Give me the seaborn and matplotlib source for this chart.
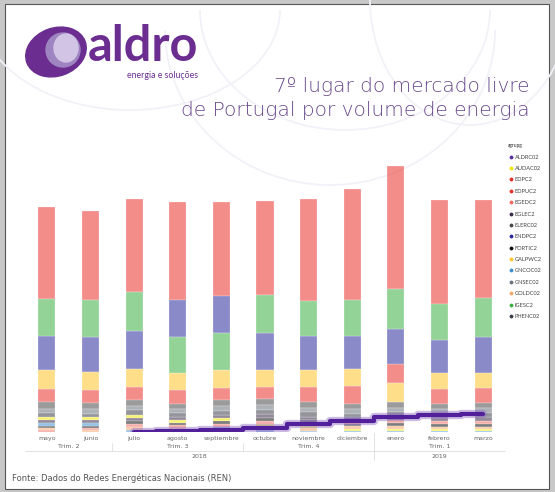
import numpy as np
import matplotlib
matplotlib.use("Agg")
import matplotlib.pyplot as plt
import seaborn as sns
from matplotlib.lines import Line2D
from matplotlib.patches import Rectangle, Ellipse, Arc

# ==========================
# DATOS (volumen mensual por comercializador, unidades aprox.)
# ==========================
meses = ["mayo", "junio", "julio", "agosto", "septiembre", "octubre",
         "noviembre", "diciembre", "enero", "febrero", "marzo"]
trimestres = ["Trim. 2", "Trim. 3", "Trim. 4", "Trim. 1"]
trim_centros = [0.5, 3, 6, 9]
anos = ["2018", "2019"]
ano_centros = [3.5, 9]

edpc2 = [91.6, 89.0, 93.0, 98.4, 94.3, 94.0, 101.7, 111.3, 122.7, 103.3, 98.0]
igesc2 = [36.7, 37.0, 38.7, 36.2, 37.0, 38.0, 35.7, 36.0, 39.7, 36.7, 39.3]
endpc2 = [34.7, 35.3, 38.3, 36.5, 37.2, 36.7, 33.6, 32.3, 35.6, 32.7, 35.4]
galpwc2 = [18.3, 18.0, 18.4, 17.7, 17.7, 17.3, 17.0, 17.7, 18.7, 15.6, 15.3]
edpuc2 = [13.7, 13.0, 12.7, 13.3, 12.3, 12.4, 15.0, 17.3, 19.0, 15.0, 15.0]
elerc02 = [6.3, 6.0, 5.5, 5.0, 5.5, 6.0, 5.8, 5.5, 6.0, 5.5, 5.5]
gnsec02 = [4.5, 4.6, 4.8, 4.4, 4.8, 4.8, 4.6, 4.4, 4.6, 4.4, 4.6]
phenc02 = [3.8, 3.6, 4.1, 3.6, 4.0, 4.2, 4.2, 3.9, 4.1, 4.0, 4.1]
egedc2 = [2.0, 2.2, 3.0, 2.5, 3.0, 3.2, 2.8, 3.0, 3.2, 3.0, 3.0]
audac02 = [3.0, 3.0, 3.5, 2.8, 3.2, 3.0, 2.5, 2.2, 2.0, 1.8, 1.8]
gncoc02 = [2.6, 2.5, 2.2, 2.0, 2.4, 2.2, 1.5, 1.2, 1.2, 1.0, 1.0]
eglec2 = [2.9, 2.8, 3.3, 3.1, 3.4, 3.5, 3.4, 3.2, 3.6, 3.5, 3.7]
fortic2 = [2.4, 2.2, 3.0, 2.7, 3.1, 3.3, 2.9, 2.8, 3.0, 2.8, 2.9]
goldc02 = [2.1, 1.9, 2.5, 2.2, 2.4, 2.6, 2.3, 2.2, 2.5, 2.4, 2.5]
aldrc02 = [np.nan, np.nan, 0.3, 0.8, 2.5, 4.0, 8.5, 11.5, 15.5, 17.0, 18.0]

nombres = ["ALDRC02", "AUDAC02", "EDPC2", "EDPUC2", "EGEDC2", "EGLEC2", "ELERC02",
           "ENDPC2", "FORTIC2", "GALPWC2", "GNCOC02", "GNSEC02", "GOLDC02",
           "IGESC2", "PHENC02"]
colores = ["#5b2d9e", "#f2e600", "#e8302a", "#e8302a", "#f06a62", "#3a2a4a", "#4a4a4a",
           "#2b2b9e", "#111111", "#ffc32b", "#3d8fd0", "#6a737c", "#f6a66a",
           "#3cb043", "#3a3f4a"]
series = {"AUDAC02": audac02, "EDPC2": edpc2, "EDPUC2": edpuc2, "EGEDC2": egedc2,
          "EGLEC2": eglec2, "ELERC02": elerc02, "ENDPC2": endpc2, "FORTIC2": fortic2,
          "GALPWC2": galpwc2, "GNCOC02": gncoc02, "GNSEC02": gnsec02,
          "GOLDC02": goldc02, "IGESC2": igesc2, "PHENC02": phenc02}
col = dict(zip(nombres, colores))

# ==========================
# FIGURA
# ==========================
sns.set_theme(style="white")
plt.rcParams["font.family"] = ["Lato", "DejaVu Sans"]
W, H = 555, 492
fig = plt.figure(figsize=(W / 100, H / 100), dpi=100)

# fondo: marco, arcos y logo (coordenadas en px)
bg = fig.add_axes([0, 0, 1, 1], zorder=-1)
bg.set_xlim(0, W)
bg.set_ylim(H, 0)
bg.axis("off")
bg.add_patch(Rectangle((0, 0), W, H, color="#c8c8c8"))
bg.add_patch(Rectangle((5, 4), 544, 485, facecolor="white", edgecolor="#555555", lw=0.8))
for (cx, cy, w, h, t1, t2) in [(330, 30, 330, 310, 0, 180), (345, 10, 290, 240, 0, 180),
                               (130, 10, 300, 200, 0, 180), (470, 0, 200, 250, 0, 180)]:
    bg.add_patch(Arc((cx, cy), w, h, theta1=t1, theta2=t2, color="#f3f1f8", lw=1.3))
bg.add_patch(Ellipse((56, 52), 62, 48, angle=-20, color="#6b2d8f"))
bg.add_patch(Ellipse((63, 50), 34, 34, angle=0, color="#9e84c0"))
bg.add_patch(Ellipse((66, 48), 24, 28, angle=0, color="#d2c4e4"))
bg.text(88, 61, "aldro", fontsize=35, fontweight="bold", color="#6b2d8f",
        ha="left", va="baseline")
bg.text(198, 75, "energia e soluções", fontsize=6.3, color="#6b2d8f", ha="right", va="center")
bg.text(530, 86, "7º lugar do mercado livre", fontsize=14.5, fontweight=200,
        color="#6a4a8c", family="DejaVu Sans", ha="right", va="center")
bg.text(530, 111, "de Portugal por volume de energia", fontsize=14.5,
        fontweight=200, color="#6a4a8c", family="DejaVu Sans",
        ha="right", va="center")
bg.text(12, 478, "Fonte: Dados do Redes Energéticas Nacionais (REN)", fontsize=6,
        color="#555555", family="DejaVu Sans", ha="left", va="center")

# ==========================
# BARRAS APILADAS (orden por valor en cada mes)
# ==========================
ax = fig.add_axes([25 / W, 1 - 432 / H, 480 / W, 272 / H])
ax.patch.set_alpha(0)
x = np.arange(len(meses))
vals = np.array([series[n] for n in series])
orden = np.argsort(vals, axis=0)
bottoms = np.zeros_like(vals)
for j in range(len(meses)):
    acum = 0
    for i in orden[:, j]:
        bottoms[i, j] = acum
        acum += vals[i, j]
for k, n in enumerate(series):
    ax.bar(x, vals[k], bottom=bottoms[k], width=0.39, color=col[n], alpha=0.55,
           edgecolor="white", linewidth=0.3)

# línea ALDRO
sns.lineplot(x=x, y=aldrc02, ax=ax, color="#8e6cc4", lw=6, alpha=0.45,
             drawstyle="steps-mid", solid_joinstyle="round")
sns.lineplot(x=x, y=aldrc02, ax=ax, color="#52209a", lw=3,
             drawstyle="steps-mid", solid_joinstyle="round")

ax.set_xlim(-0.5, 10.5)
ax.set_ylim(0, 272)
ax.set_yticks([])
ax.set_xticks(x)
ax.set_xticklabels(meses, fontsize=4.5, color="#666666", family="DejaVu Sans")
ax.tick_params(axis="x", length=0, pad=3)
for s in ax.spines.values():
    s.set_visible(False)

tr = ax.get_xaxis_transform()
for t, c in zip(trimestres, trim_centros):
    ax.text(c, -15 / 272, t, transform=tr, fontsize=4.5, color="#666666",
            family="DejaVu Sans", ha="center", va="center")
for a, c in zip(anos, ano_centros):
    ax.text(c, -25 / 272, a, transform=tr, fontsize=4.5, color="#666666",
            family="DejaVu Sans", ha="center", va="center")
ax.plot([-0.5, 10.5], [-19 / 272] * 2, transform=tr, color="#dddddd", lw=0.6, clip_on=False)
for b in [1.5, 4.5]:
    ax.plot([b, b], [-11 / 272, -19 / 272], transform=tr, color="#dddddd", lw=0.6, clip_on=False)
ax.plot([7.5, 7.5], [-1 / 272, -28 / 272], transform=tr, color="#dddddd", lw=0.6, clip_on=False)

# ==========================
# LEYENDA
# ==========================
handles = [Line2D([0], [0], marker="o", color="w", markerfacecolor=c,
                  markersize=3.8, label=n) for n, c in zip(nombres, colores)]
fig.legend(handles=handles, title="agrupg", loc="upper left",
           bbox_to_anchor=(506 / W, 1 - 141 / H), frameon=False, fontsize=4.1,
           title_fontsize=3.5, handlelength=0.8, handletextpad=0.3,
           labelspacing=1.12, borderaxespad=0, alignment="left",
           labelcolor="#444444")

fig.savefig("out.png", dpi=100)
